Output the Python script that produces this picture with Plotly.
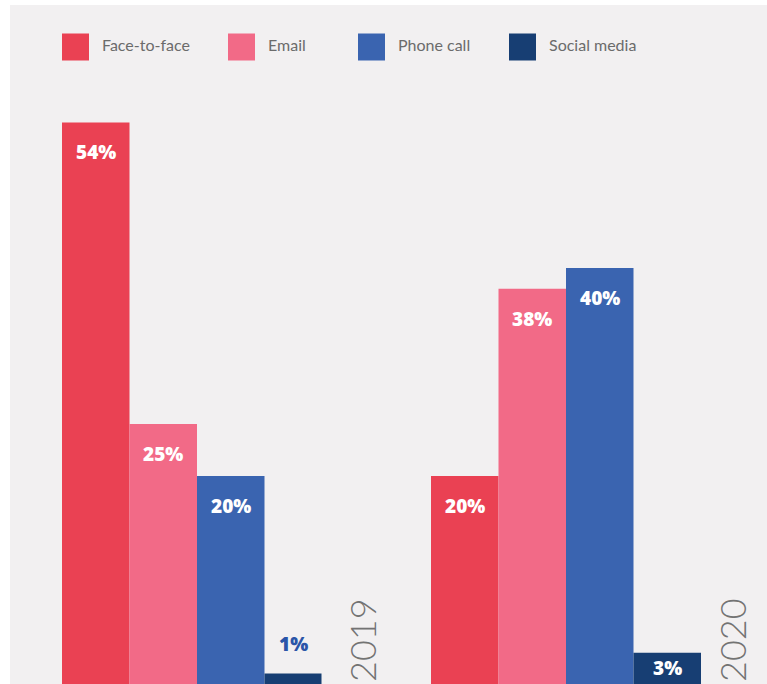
import plotly.graph_objects as go

# Data
years = ["2019", "2020"]
channels = ["Face-to-face", "Email", "Phone call", "Social media"]
share_2019 = [54, 25, 20, 1]
share_2020 = [20, 38, 40, 3]
colors = ["#ea4153", "#f26a87", "#3a64b0", "#173e73"]

# Layout constants (x axis is in page pixels, y axis in percent)
W, H = 767, 684
PX_PER_PCT = 10.4
GROUP_START = [62, 431]
BAR_W = 67.5
LAST_BAR_W = [57, 67.5]
YEAR_X = [362, 732]
LEGEND_SQ_X = [62, 228, 358, 509]
LEGEND_SQ = 27
LEGEND_Y = 47

fig = go.Figure()

series = [share_2019, share_2020]
label_ann = []
for i, ch in enumerate(channels):
    xs, ws, ys = [], [], []
    for g in range(len(years)):
        w = LAST_BAR_W[g] if i == len(channels) - 1 else BAR_W
        cx = GROUP_START[g] + i * BAR_W + w / 2
        v = series[g][i]
        xs.append(cx)
        ws.append(w)
        ys.append(v)
        h = v * PX_PER_PCT
        if h > 60:
            shift, col = -30, "white"
            yy = v
        elif h > 20:
            shift, col = 0, "white"
            yy = v / 2
        else:
            shift, col = 30, "#2a55a8"
            yy = v
        label_ann.append(dict(
            x=cx, y=yy, xref="x", yref="y", text=f"{v}%", showarrow=False,
            yshift=shift, xanchor="center", yanchor="middle",
            font=dict(family="Open Sans", size=19, color=col, weight=800),
        ))
    fig.add_trace(go.Bar(
        x=xs, y=ys, width=ws, name=ch, marker=dict(color=colors[i], line=dict(width=0)),
        showlegend=False, hoverinfo="skip",
    ))

shapes = [dict(
    type="rect", xref="paper", yref="paper", x0=10 / W, x1=1, y0=0, y1=(H - 5) / H,
    fillcolor="#f2f0f1", line=dict(width=0), layer="below",
)]

# Legend drawn as squares + text
legend_ann = []
for i, ch in enumerate(channels):
    x0 = LEGEND_SQ_X[i]
    shapes.append(dict(
        type="rect", xref="x", yref="paper", x0=x0, x1=x0 + LEGEND_SQ,
        y0=1 - (LEGEND_Y + LEGEND_SQ / 2) / H, y1=1 - (LEGEND_Y - LEGEND_SQ / 2) / H,
        fillcolor=colors[i], line=dict(width=0),
    ))
    legend_ann.append(dict(
        x=x0 + 38, y=1 - (LEGEND_Y - 3) / H, xref="x", yref="paper", text=ch,
        showarrow=False, xanchor="left", yanchor="middle",
        font=dict(family="Lato", size=16, color="#6b6b6b"),
    ))

year_ann = []
for g, yr in enumerate(years):
    year_ann.append(dict(
        x=YEAR_X[g], y=0, xref="x", yref="paper", text=yr, showarrow=False,
        textangle=-90, xanchor="center", yanchor="bottom", yshift=0,
        font=dict(family="Lato", size=36, color="#737373", weight=300),
    ))

fig.update_layout(
    width=W, height=H, margin=dict(l=0, r=0, t=0, b=0),
    paper_bgcolor="white", plot_bgcolor="rgba(0,0,0,0)",
    barmode="overlay",
    xaxis=dict(range=[0, W], visible=False, fixedrange=True),
    yaxis=dict(range=[0, H / PX_PER_PCT], visible=False, fixedrange=True),
    shapes=shapes,
    annotations=label_ann + legend_ann + year_ann,
)

fig.write_html("out.html")
